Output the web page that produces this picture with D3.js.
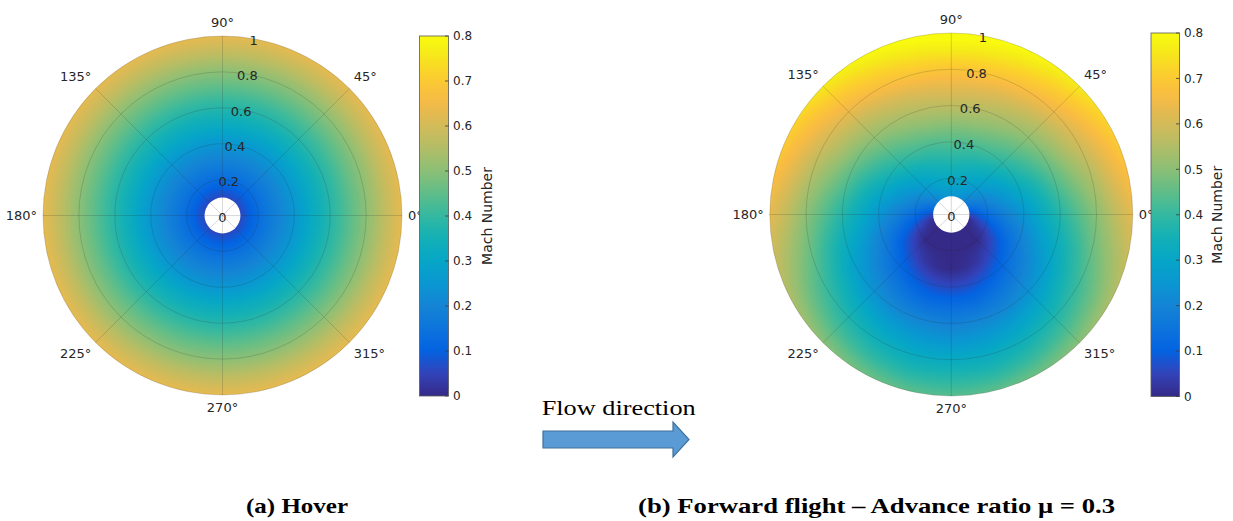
<!DOCTYPE html>
<html>
<head>
<meta charset="utf-8">
<script src="https://cdn.jsdelivr.net/npm/d3@7"></script>
<style>
  html, body { margin: 0; padding: 0; background: #ffffff; }
  svg { display: block; }
</style>
</head>
<body>
<svg id="chart" width="1233" height="521"></svg>
<script>
// ---------------- DATA ----------------
// radial stations (fraction of rotor radius) – the disc starts at the root cut-out
const radii = [0.1, 0.2, 0.3, 0.4, 0.5, 0.6, 0.7, 0.8, 0.9, 1.0];

// (a) Hover: Mach number along the radius (same at every azimuth)
const hoverMach = [0.06, 0.13, 0.19, 0.25, 0.32, 0.38, 0.44, 0.50, 0.57, 0.63];

// (b) Forward flight, mu = 0.3: Mach number at each azimuth (deg) for each radial station
const azimuths = [0, 15, 30, 45, 60, 75, 90, 105, 120, 135, 150, 165,
                  180, 195, 210, 225, 240, 255, 270, 285, 300, 315, 330, 345];
const forwardMach = [
  [0.06, 0.13, 0.19, 0.25, 0.32, 0.38, 0.44, 0.50, 0.57, 0.63], //   0
  [0.11, 0.18, 0.24, 0.30, 0.36, 0.43, 0.49, 0.55, 0.62, 0.68], //  15
  [0.16, 0.22, 0.28, 0.35, 0.41, 0.47, 0.54, 0.60, 0.66, 0.72], //  30
  [0.20, 0.26, 0.32, 0.39, 0.45, 0.51, 0.57, 0.64, 0.70, 0.76], //  45
  [0.23, 0.29, 0.35, 0.42, 0.48, 0.54, 0.60, 0.67, 0.73, 0.79], //  60
  [0.25, 0.31, 0.37, 0.43, 0.50, 0.56, 0.62, 0.69, 0.75, 0.81], //  75
  [0.25, 0.32, 0.38, 0.44, 0.50, 0.57, 0.63, 0.69, 0.76, 0.82], //  90
  [0.25, 0.31, 0.37, 0.43, 0.50, 0.56, 0.62, 0.69, 0.75, 0.81], // 105
  [0.23, 0.29, 0.35, 0.42, 0.48, 0.54, 0.60, 0.67, 0.73, 0.79], // 120
  [0.20, 0.26, 0.32, 0.39, 0.45, 0.51, 0.57, 0.64, 0.70, 0.76], // 135
  [0.16, 0.22, 0.28, 0.35, 0.41, 0.47, 0.54, 0.60, 0.66, 0.72], // 150
  [0.11, 0.18, 0.24, 0.30, 0.36, 0.43, 0.49, 0.55, 0.62, 0.68], // 165
  [0.06, 0.13, 0.19, 0.25, 0.32, 0.38, 0.44, 0.50, 0.57, 0.63], // 180
  [0.01, 0.08, 0.14, 0.20, 0.27, 0.33, 0.39, 0.46, 0.52, 0.58], // 195
  [0.00, 0.03, 0.09, 0.16, 0.22, 0.28, 0.35, 0.41, 0.47, 0.54], // 210
  [0.00, 0.00, 0.06, 0.12, 0.18, 0.24, 0.31, 0.37, 0.43, 0.50], // 225
  [0.00, 0.00, 0.03, 0.09, 0.15, 0.21, 0.28, 0.34, 0.40, 0.47], // 240
  [0.00, 0.00, 0.01, 0.07, 0.13, 0.20, 0.26, 0.32, 0.38, 0.45], // 255
  [0.00, 0.00, 0.00, 0.06, 0.13, 0.19, 0.25, 0.32, 0.38, 0.44], // 270
  [0.00, 0.00, 0.01, 0.07, 0.13, 0.20, 0.26, 0.32, 0.38, 0.45], // 285
  [0.00, 0.00, 0.03, 0.09, 0.15, 0.21, 0.28, 0.34, 0.40, 0.47], // 300
  [0.00, 0.00, 0.06, 0.12, 0.18, 0.24, 0.31, 0.37, 0.43, 0.50], // 315
  [0.00, 0.03, 0.09, 0.16, 0.22, 0.28, 0.35, 0.41, 0.47, 0.54], // 330
  [0.01, 0.08, 0.14, 0.20, 0.27, 0.33, 0.39, 0.46, 0.52, 0.58]  // 345
];

// tick labels
const angleTicks = [0, 45, 90, 135, 180, 225, 270, 315];
const radialTicks = [0, 0.2, 0.4, 0.6, 0.8, 1];
const colorbarTicks = [0, 0.1, 0.2, 0.3, 0.4, 0.5, 0.6, 0.7, 0.8];
const machRange = [0, 0.8];
const colorbarTitle = "Mach Number";
const captionTexts = ["(a) Hover", "(b) Forward flight \u2013 Advance ratio \u03bc = 0.3"];
const flowText = "Flow direction";

// ---------------- STYLE ----------------
// parula colormap (position 0..1, r, g, b)
const parula = [
  [0/63, 0.2081, 0.1663, 0.5292], [4/63, 0.1959, 0.2645, 0.7279],
  [8/63, 0.0117, 0.3875, 0.8820], [12/63, 0.0498, 0.4586, 0.8641],
  [16/63, 0.0793, 0.5200, 0.8312], [20/63, 0.0343, 0.5966, 0.8199],
  [24/63, 0.0228, 0.6535, 0.7768], [28/63, 0.0843, 0.6928, 0.7062],
  [32/63, 0.2178, 0.7250, 0.6193], [36/63, 0.3953, 0.7459, 0.5244],
  [40/63, 0.5709, 0.7485, 0.4494], [44/63, 0.7184, 0.7411, 0.3905],
  [48/63, 0.8507, 0.7299, 0.3360], [52/63, 0.9739, 0.7314, 0.2666],
  [56/63, 0.9880, 0.8066, 0.1794], [60/63, 0.9598, 0.9218, 0.0948],
  [63/63, 0.9763, 0.9831, 0.0538]
];
const textColor = "#262626";
const tickFont = "'DejaVu Sans', sans-serif";

const panels = [
  { cx: 222.5, cy: 215.5, R: 179.5, cb: { x: 419.5, w: 29, top: 36, bottom: 396 }, titleX: 487 },
  { cx: 951.3, cy: 214.5, R: 181.5, cb: { x: 1151, w: 28.5, top: 33, bottom: 396.5 }, titleX: 1217 }
];

// ---------------- SCALES ----------------
const color = d3.scaleLinear()
  .domain(parula.map(p => machRange[0] + p[0] * (machRange[1] - machRange[0])))
  .range(parula.map(p => d3.rgb(p[1] * 255, p[2] * 255, p[3] * 255).formatHex()))
  .interpolate(d3.interpolateRgb)
  .clamp(true);

const LUT_N = 1000;
const lut = d3.range(LUT_N + 1).map(i => d3.rgb(color(machRange[0] + i / LUT_N * (machRange[1] - machRange[0]))));

const radIndex = d3.scaleLinear().domain(radii).range(d3.range(radii.length)).clamp(true);

function hoverSampler(r) {
  const f = radIndex(r);
  const i0 = Math.min(Math.floor(f), radii.length - 2), t = f - i0;
  return (1 - t) * hoverMach[i0] + t * hoverMach[i0 + 1];
}
function forwardSampler(r, psi) {
  const f = radIndex(r);
  const i0 = Math.min(Math.floor(f), radii.length - 2), tr = f - i0;
  const nA = azimuths.length;
  let j = d3.bisectRight(azimuths, psi) - 1; if (j < 0) j = nA - 1;
  const j1 = (j + 1) % nA;
  const a0 = azimuths[j]; let a1 = azimuths[j1]; if (j1 === 0) a1 += 360;
  const ta = (psi - a0) / (a1 - a0);
  const row0 = forwardMach[j], row1 = forwardMach[j1];
  const v0 = (1 - tr) * row0[i0] + tr * row0[i0 + 1];
  const v1 = (1 - tr) * row1[i0] + tr * row1[i0 + 1];
  return (1 - ta) * v0 + ta * v1;
}

function fieldDataURL(R, sampler) {
  const size = Math.ceil(2 * R) + 6;
  const canvas = document.createElement("canvas");
  canvas.width = size; canvas.height = size;
  const ctx = canvas.getContext("2d");
  const img = ctx.createImageData(size, size);
  const rScale = d3.scaleLinear().domain([0, 1]).range([0, R]);
  const vIndex = d3.scaleLinear().domain(machRange).range([0, LUT_N]).clamp(true);
  const half = size / 2;
  for (let y = 0; y < size; y++) {
    for (let x = 0; x < size; x++) {
      const dx = x + 0.5 - half, dy = half - (y + 0.5);
      const rr = rScale.invert(Math.hypot(dx, dy));
      if (rr < radii[0] - 0.02 || rr > 1.03) continue;
      let psi = Math.atan2(dy, dx) * 180 / Math.PI; if (psi < 0) psi += 360;
      const v = sampler(Math.max(radii[0], Math.min(1, rr)), psi);
      const c = lut[Math.round(vIndex(v))];
      const k = (y * size + x) * 4;
      img.data[k] = c.r; img.data[k + 1] = c.g; img.data[k + 2] = c.b; img.data[k + 3] = 255;
    }
  }
  ctx.putImageData(img, 0, 0);
  return { url: canvas.toDataURL(), size };
}

// ---------------- DRAW ----------------
const svg = d3.select("#chart");
const defs = svg.append("defs");

panels.forEach((p, pi) => {
  const rScale = d3.scaleLinear().domain([0, 1]).range([0, p.R]);
  const g = svg.append("g").attr("transform", `translate(${p.cx},${p.cy})`);

  // field
  const clipId = "clip" + pi;
  defs.append("clipPath").attr("id", clipId)
    .append("circle").attr("cx", 0).attr("cy", 0).attr("r", rScale(1));
  const field = fieldDataURL(p.R, pi === 0 ? (r) => hoverSampler(r) : forwardSampler);
  g.append("image")
    .attr("href", field.url)
    .attr("x", -field.size / 2).attr("y", -field.size / 2)
    .attr("width", field.size).attr("height", field.size)
    .attr("clip-path", `url(#${clipId})`);

  // root cut-out (no data)
  g.append("circle").attr("r", rScale(radii[0])).attr("fill", "#ffffff");

  // grid
  const grid = g.append("g").attr("fill", "none").attr("stroke", textColor)
    .attr("stroke-opacity", 0.2).attr("stroke-width", 0.9);
  grid.selectAll("circle.ring").data(radialTicks.filter(d => d > 0)).join("circle")
    .attr("class", "ring").attr("r", d => rScale(d));
  grid.selectAll("line.spoke").data(angleTicks).join("line")
    .attr("class", "spoke")
    .attr("x1", 0).attr("y1", 0)
    .attr("x2", d => rScale(1) * Math.cos(d * Math.PI / 180))
    .attr("y2", d => -rScale(1) * Math.sin(d * Math.PI / 180));

  // angle labels
  const off = 6;
  g.selectAll("text.ang").data(angleTicks).join("text")
    .attr("class", "ang")
    .attr("x", d => (rScale(1) + off) * Math.cos(d * Math.PI / 180))
    .attr("y", d => -(rScale(1) + off) * Math.sin(d * Math.PI / 180))
    .attr("text-anchor", d => { const c = Math.cos(d * Math.PI / 180); return c > 0.1 ? "start" : c < -0.1 ? "end" : "middle"; })
    .attr("dy", d => { const s = Math.sin(d * Math.PI / 180); return s > 0.1 ? "-0.25em" : s < -0.1 ? "0.85em" : "0.35em"; })
    .attr("font-family", tickFont).attr("font-size", 13).attr("fill", textColor)
    .text(d => d + "\u00b0");

  // radial labels along 80 deg
  const labAng = 80 * Math.PI / 180;
  g.selectAll("text.rad").data(radialTicks).join("text")
    .attr("class", "rad")
    .attr("x", d => rScale(d) * Math.cos(labAng))
    .attr("y", d => -rScale(d) * Math.sin(labAng) + 1.5)
    .attr("text-anchor", "middle").attr("dy", "0.35em")
    .attr("font-family", tickFont).attr("font-size", 13).attr("fill", textColor)
    .text(d => d3.format("")(d));

  // colorbar
  const cb = p.cb;
  const yScale = d3.scaleLinear().domain(machRange).range([cb.bottom, cb.top]);
  const gradId = "grad" + pi;
  const grad = defs.append("linearGradient").attr("id", gradId)
    .attr("x1", 0).attr("y1", 1).attr("x2", 0).attr("y2", 0);
  const nStops = 33;
  grad.selectAll("stop").data(d3.range(nStops)).join("stop")
    .attr("offset", i => i / (nStops - 1))
    .attr("stop-color", i => color(machRange[0] + i / (nStops - 1) * (machRange[1] - machRange[0])));
  svg.append("rect")
    .attr("x", cb.x).attr("y", cb.top).attr("width", cb.w).attr("height", cb.bottom - cb.top)
    .attr("fill", `url(#${gradId})`).attr("stroke", "#5a5a5a").attr("stroke-width", 0.8);
  const cbg = svg.append("g");
  cbg.selectAll("line").data(colorbarTicks).join("line")
    .attr("x1", cb.x + cb.w - 3.5).attr("x2", cb.x + cb.w)
    .attr("y1", d => yScale(d)).attr("y2", d => yScale(d))
    .attr("stroke", "#3a3a3a").attr("stroke-width", 0.8);
  cbg.selectAll("text").data(colorbarTicks).join("text")
    .attr("x", cb.x + cb.w + 4.5).attr("y", d => yScale(d)).attr("dy", "0.35em")
    .attr("font-family", tickFont).attr("font-size", 12).attr("fill", textColor)
    .text(d => d3.format("")(d));
  svg.append("text")
    .attr("transform", `translate(${p.titleX},${(cb.top + cb.bottom) / 2}) rotate(-90)`)
    .attr("text-anchor", "middle").attr("dy", "0.35em")
    .attr("font-family", tickFont).attr("font-size", 14).attr("fill", textColor)
    .text(colorbarTitle);
});

// flow direction annotation
svg.append("text")
  .attr("x", 541.7).attr("y", 415)
  .attr("font-family", "'Liberation Serif', 'Times New Roman', serif").attr("font-size", 22)
  .attr("textLength", 154).attr("lengthAdjust", "spacingAndGlyphs")
  .attr("fill", "#000").text(flowText);
const arrowPts = [[543, 431], [673, 431], [673, 422], [689, 439.5], [673, 457], [673, 448], [543, 448]];
svg.append("path")
  .attr("d", d3.line()(arrowPts) + "Z")
  .attr("fill", "#5b9bd5").attr("stroke", "#41719c").attr("stroke-width", 1.2);

// captions
const captionPos = [{ x: 297, w: 102 }, { x: 876.5, w: 477 }];
svg.selectAll("text.caption").data(captionTexts).join("text")
  .attr("class", "caption")
  .attr("x", (d, i) => captionPos[i].x).attr("y", 513)
  .attr("text-anchor", "middle")
  .attr("font-family", "'Liberation Serif', 'Times New Roman', serif")
  .attr("font-weight", "bold").attr("font-size", 22)
  .attr("textLength", (d, i) => captionPos[i].w).attr("lengthAdjust", "spacingAndGlyphs")
  .attr("fill", "#000").text(d => d);
</script>
</body>
</html>
